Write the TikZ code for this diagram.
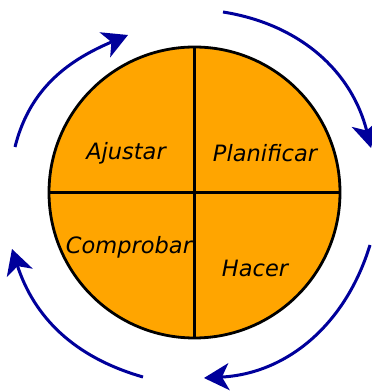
\documentclass[tikz,border=0pt]{standalone}
\usepackage{fontspec}
\setmainfont{DejaVu Sans}
\usetikzlibrary{arrows.meta,calc}
\definecolor{orangefill}{RGB}{255,165,0}
\definecolor{arrowblue}{RGB}{0,0,155}
\tikzset{
  quad/.style={font=\fontsize{22.5}{26}\selectfont\itshape, text=black, inner sep=0pt},
  cycarrow/.style={arrowblue, line width=3pt, -{Stealth[length=25pt,width=27pt,inset=7pt]}},
  outline/.style={line width=2.8pt, black}
}
\begin{document}
\begin{tikzpicture}[x=1pt,y=1pt]
\useasboundingbox (0,0) rectangle (372,391);
\coordinate (c) at (194.5,198.5);
\draw[outline, fill=orangefill] (c) circle (145.5);
\draw[outline] (194.5,53) -- (194.5,344);
\draw[outline] (49,198.5) -- (340,198.5);
\node[quad] (ajustar) at (126,238) {Ajustar};
\node[quad] (planificar) at (265,238) {Planificar};
\node[quad] (comprobar) at (129,144) {Comprobar};
\node[quad] (hacer) at (255,123) {Hacer};
\coordinate (s1) at (15,244);
\coordinate (e1) at (128,356);
\coordinate (s2) at (223,379);
\coordinate (e2) at (371,243);
\coordinate (s3) at (370,146);
\coordinate (e3) at (204,13);
\coordinate (s4) at (143,14);
\coordinate (e4) at (12,142);
\draw[cycarrow] (s1) to[out=76, in=203] (e1);
\draw[cycarrow] (s2) to[out=-9, in=104] (e2);
\draw[cycarrow] (s3) to[out=-107, in=3] (e3);
\draw[cycarrow] (s4) to[out=164, in=-72] (e4);
\end{tikzpicture}
\end{document}
